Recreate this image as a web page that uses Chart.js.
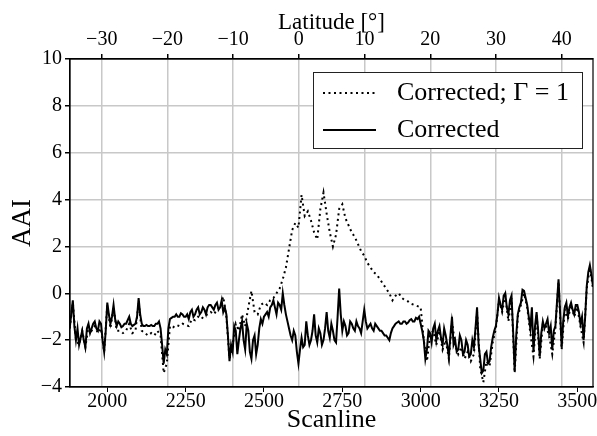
<!DOCTYPE html>
<html>
<head>
<meta charset="utf-8">
<script src="https://cdn.jsdelivr.net/npm/chart.js@4"></script>
<style>
  html, body { margin: 0; padding: 0; background: #fff; }
  #wrap { width: 597px; height: 436px; }
</style>
</head>
<body>
<div id="wrap"><canvas id="aaiChart" width="597" height="436"></canvas></div>
<script>
// both series start at scanline 1880; solid sampled every 5, dotted every 10
const scanStart = 1880;
const solidStep = 5;
const dottedStep = 10;

// "Corrected" (solid), 1880..3550 step 5
const corrected = [
  -1.5, -0.9, -0.3, -1.4, -2.0, -1.5, -2.2, -1.9, -1.6, -2.0, -2.3, -1.5, -1.3, -1.7, -1.5, -1.3, -1.2, -1.5, -1.6, -1.2,
  -1.3, -2.0, -2.5, -1.6, -0.4, -0.9, -1.3, -1.0, -0.5, -1.1, -1.4, -1.2, -1.3, -1.45, -1.4, -1.3, -1.3, -1.15, -1.0, -1.3,
  -1.4, -1.35, -1.3, -1.0, -0.2, -0.9, -1.3, -1.4, -1.4, -1.35, -1.4, -1.4, -1.35, -1.4, -1.4, -1.3, -1.3, -1.2, -1.5, -2.2,
  -3.0, -2.4, -2.6, -1.5, -1.1, -1.05, -1.0, -1.0, -0.9, -1.0, -1.0, -0.85, -0.9, -1.0, -1.0, -0.9, -1.1, -0.8, -0.7, -1.0,
  -0.9, -0.7, -0.6, -0.9, -0.8, -0.6, -0.7, -0.9, -0.6, -0.5, -0.5, -0.6, -0.7, -0.5, -0.4, -0.7, -0.6, -0.3, -0.8, -0.6,
  -0.9, -1.8, -2.9, -2.2, -2.5, -1.4, -1.6, -2.6, -2.0, -1.5, -1.2, -2.0, -2.4, -1.3, -1.6, -2.5, -2.8, -2.0, -1.8, -2.6,
  -2.2, -1.5, -1.1, -1.3, -1.0, -0.9, -0.8, -1.0, -0.6, -0.5, -0.3, -0.6, -0.9, -0.4, -0.5, -0.7, 0.0, -0.5, -0.9, -1.2,
  -1.5, -1.8, -2.0, -1.6, -1.8, -2.5, -3.0, -2.4, -1.9, -2.3, -2.2, -1.2, -1.8, -2.2, -2.0, -1.6, -0.9, -1.8, -2.1, -1.5,
  -1.7, -2.2, -2.0, -1.5, -0.8, -1.6, -1.9, -1.3, -1.6, -2.0, -2.1, -1.0, 0.2, -0.9, -1.6, -1.2, -1.4, -1.8, -1.7, -1.2,
  -1.3, -1.5, -1.6, -1.2, -1.4, -1.5, -1.7, -1.2, -0.7, -1.2, -1.5, -1.4, -1.3, -1.5, -1.6, -1.3, -1.4, -1.5, -1.6, -1.6,
  -1.7, -1.8, -1.8, -1.9, -2.0, -1.7, -1.5, -1.4, -1.3, -1.25, -1.2, -1.3, -1.3, -1.2, -1.2, -1.3, -1.25, -1.15, -1.1, -1.2,
  -1.2, -1.05, -1.1, -1.0, -1.3, -1.6, -2.0, -2.8, -2.4, -1.6, -1.7, -2.1, -1.5, -1.3, -2.0, -1.6, -1.4, -1.9, -2.2, -1.5,
  -1.8, -2.2, -2.7, -1.8, -1.0, -2.2, -2.0, -2.5, -2.4, -1.8, -2.0, -2.6, -2.5, -2.0, -2.2, -2.7, -2.6, -2.0, -2.3, -1.5,
  -0.6, -2.2, -2.8, -3.4, -3.3, -2.6, -2.5, -3.0, -2.9, -2.3, -1.9, -1.6, -1.4, -0.9, -0.2, -0.5, -0.7, -0.1, 0.0, -0.6,
  -0.9, -0.3, -0.1, -1.6, -3.3, -1.8, -0.9, -0.6, -0.4, 0.15, 0.1, -0.2, -0.5, -1.0, -1.5, -0.6, -2.5, -1.4, -0.8, -1.6,
  -2.7, -1.7, -1.2, -1.5, -1.3, -1.1, -1.7, -1.4, -2.4, -1.6, -1.4, -0.4, 0.6, -0.8, -2.3, -1.2, -0.6, -0.4, -1.0, -0.6,
  -0.4, -0.7, -0.9, -0.5, -0.5, -0.8, -1.3, -1.0, -2.0, -1.0, 0.3, 0.9, 1.2, 0.8, 0.3
];

// "Corrected; Γ = 1" (dotted), 1880..3550 step 10
const correctedGamma1 = [
  -1.5, -0.4, -2.0, -2.2, -1.6, -2.3, -1.4, -1.6, -1.4, -1.7,
  -1.5, -2.5, -0.5, -1.5, -0.6, -1.6, -1.6, -1.7, -1.6, -1.3,
  -1.7, -1.6, -0.4, -1.6, -1.7, -1.8, -1.7, -1.8, -1.6, -1.8,
  -3.4, -3.0, -1.4, -1.45, -1.35, -1.4, -1.3, -1.35, -1.4, -1.1,
  -1.15, -1.0, -1.1, -0.95, -0.9, -0.8, -0.9, -0.7, -0.6, -0.15,
  -1.0, -2.8, -2.2, -1.3, -1.6, -0.9, -1.4, -0.6, 0.1, -0.8,
  -0.9, -0.5, -0.4, -0.5, -0.3, -0.2, 0.0, 0.2, 0.6, 1.1,
  1.9, 2.7, 3.0, 2.8, 4.2, 3.3, 3.5, 3.1, 2.6, 2.3,
  3.6, 4.3, 3.4, 2.6, 2.0, 2.5, 3.6, 3.8, 3.2, 2.9,
  2.6, 2.4, 2.1, 1.8, 1.6, 1.3, 1.1, 0.9, 0.8, 0.6,
  0.4, 0.2, 0.0, -0.3, -0.1, 0.0, -0.2, -0.3, -0.35, -0.45,
  -0.5, -0.55, -0.6, -2.0, -2.9, -1.8, -1.6, -2.2, -1.6, -2.4,
  -2.0, -2.8, -1.2, -2.2, -2.6, -2.3, -2.8, -2.5, -2.9, -2.6,
  -0.8, -3.2, -3.8, -2.9, -3.1, -2.1, -1.5, -0.3, -0.8, -0.1,
  -1.2, -0.2, -3.4, -1.0, -0.5, 0.0, -0.6, -1.7, -2.7, -0.9,
  -2.8, -1.3, -1.4, -1.8, -2.6, -1.5, 0.5, -2.4, -0.7, -1.1,
  -0.5, -1.0, -0.6, -1.4, -2.1, 0.2, 1.1, 0.2
];

const scanTicks = [2000, 2250, 2500, 2750, 3000, 3250, 3500];
const latTicks = [-30, -20, -10, 0, 10, 20, 30, 40];
const aaiTicks = [-4, -2, 0, 2, 4, 6, 8, 10];

const scanRange = [1881, 3550];
const latRange = [-34.83, 44.76];

const legendLabels = ["Corrected; \u0393 = 1", "Corrected"];

function toPoints(values, step) {
  return values.map((v, i) => ({ x: scanStart + i * step, y: v }));
}
function minus(v) {
  return String(v).replace("-", "\u2212");
}

Chart.defaults.font.family = "'Liberation Serif', 'Times New Roman', serif";
Chart.defaults.color = "#000";

// box legend inside the plot + closing right frame
const frameLegend = {
  id: "frameLegend",
  afterDraw(chart) {
    const ctx = chart.ctx;
    const a = chart.chartArea;
    ctx.save();
    ctx.strokeStyle = "#000";
    ctx.lineWidth = 1.2;
    ctx.strokeRect(a.left, a.top, a.right - a.left, a.bottom - a.top);

    const bx = a.right - 280, by = a.top + 13, bw = 269, bh = 76;
    ctx.fillStyle = "#fff";
    ctx.fillRect(bx, by, bw, bh);
    ctx.strokeStyle = "#222";
    ctx.lineWidth = 1;
    ctx.strokeRect(bx + 0.5, by + 0.5, bw, bh);

    const rows = [by + 21, by + 58];
    ctx.strokeStyle = "#000";
    ctx.lineWidth = 2;
    ctx.setLineDash([2, 3.5]);
    ctx.beginPath();
    ctx.moveTo(bx + 10, rows[0]);
    ctx.lineTo(bx + 63, rows[0]);
    ctx.stroke();
    ctx.setLineDash([]);
    ctx.beginPath();
    ctx.moveTo(bx + 10, rows[1]);
    ctx.lineTo(bx + 63, rows[1]);
    ctx.stroke();

    ctx.fillStyle = "#000";
    ctx.font = "26px 'Liberation Serif', serif";
    ctx.textBaseline = "middle";
    ctx.textAlign = "left";
    ctx.fillText(legendLabels[0], bx + 84, rows[0]);
    ctx.fillText(legendLabels[1], bx + 84, rows[1]);
    ctx.restore();
  }
};

const ctx = document.getElementById("aaiChart").getContext("2d");
new Chart(ctx, {
  type: "line",
  data: {
    datasets: [
      {
        label: legendLabels[1],
        data: toPoints(corrected, solidStep),
        borderColor: "#000",
        borderWidth: 2,
        pointRadius: 0,
        tension: 0,
        fill: false,
        order: 0
      },
      {
        label: legendLabels[0],
        data: toPoints(correctedGamma1, dottedStep),
        borderColor: "#000",
        borderWidth: 2,
        borderDash: [2, 3.5],
        pointRadius: 0,
        tension: 0,
        fill: false,
        order: 1
      }
    ]
  },
  options: {
    responsive: false,
    animation: false,
    layout: { padding: { left: 0, right: 4, top: 0, bottom: 0 } },
    plugins: {
      legend: { display: false },
      tooltip: { enabled: false }
    },
    scales: {
      x: {
        type: "linear",
        position: "bottom",
        min: scanRange[0],
        max: scanRange[1],
        afterBuildTicks: (s) => { s.ticks = scanTicks.map((v) => ({ value: v })); },
        afterFit: (s) => { s.height = 49; },
        grid: { drawOnChartArea: false, color: "#000", tickLength: 5 },
        border: { color: "#000", width: 1.2 },
        ticks: { font: { size: 20 }, padding: -2, maxRotation: 0, callback: (v) => String(v) },
        title: { display: true, text: "Scanline", font: { size: 26 }, padding: { top: 0, bottom: 0 } }
      },
      x2: {
        type: "linear",
        position: "top",
        min: latRange[0],
        max: latRange[1],
        afterBuildTicks: (s) => { s.ticks = latTicks.map((v) => ({ value: v })); },
        afterFit: (s) => { s.height = 59; },
        grid: { color: "#c8c8c8", lineWidth: 1.5, tickColor: "#000", tickLength: 5 },
        border: { color: "#000", width: 1.2 },
        ticks: { font: { size: 20 }, padding: 2, maxRotation: 0, callback: (v) => minus(v) },
        title: { display: true, text: "Latitude [\u00b0]", font: { size: 23 }, padding: { top: 9, bottom: 0 } }
      },
      y: {
        type: "linear",
        min: -4,
        max: 10,
        afterBuildTicks: (s) => { s.ticks = aaiTicks.map((v) => ({ value: v })); },
        afterFit: (s) => { s.width = 70; },
        grid: { color: "#c8c8c8", lineWidth: 1.5, tickColor: "#000", tickLength: 5 },
        border: { color: "#000", width: 1.2 },
        ticks: { font: { size: 20 }, padding: 3, callback: (v) => minus(v) },
        title: { display: true, text: "AAI", font: { size: 27 }, padding: { top: 7, bottom: 0 } }
      }
    }
  },
  plugins: [frameLegend]
});
</script>
</body>
</html>
